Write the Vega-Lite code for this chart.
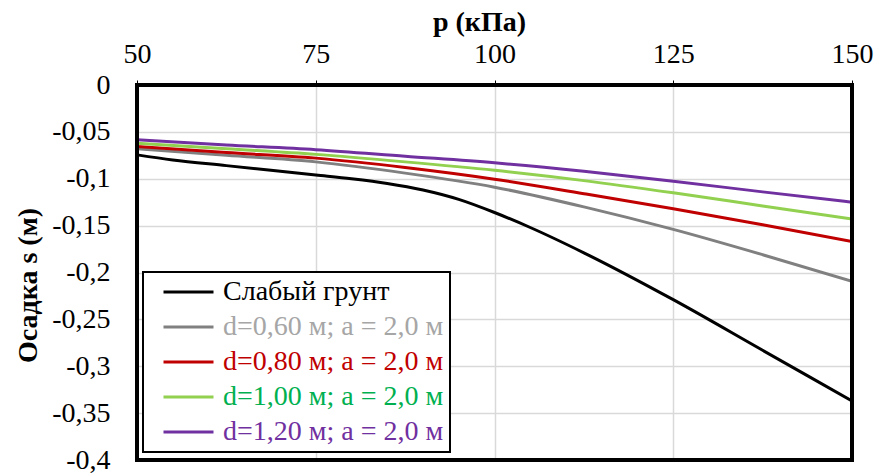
{
  "$schema": "https://vega.github.io/schema/vega-lite/v6.json",
  "width": 715,
  "height": 375,
  "autosize": {"type": "none"},
  "padding": {"left": 137, "top": 85, "right": 26, "bottom": 13},
  "background": "white",
  "config": {
    "view": {"stroke": null},
    "axis": {"labelFont": "Times New Roman", "titleFont": "Times New Roman"},
    "legend": {"labelFont": "Times New Roman", "titleFont": "Times New Roman"}
  },
  "data": {"values": [
    {"p": 50, "s": -0.0745, "series": "Слабый грунт"},
    {"p": 55, "s": -0.080, "series": "Слабый грунт"},
    {"p": 62.5, "s": -0.086, "series": "Слабый грунт"},
    {"p": 75, "s": -0.096, "series": "Слабый грунт"},
    {"p": 80, "s": -0.100, "series": "Слабый грунт"},
    {"p": 85, "s": -0.105, "series": "Слабый грунт"},
    {"p": 90, "s": -0.112, "series": "Слабый грунт"},
    {"p": 95, "s": -0.122, "series": "Слабый грунт"},
    {"p": 100, "s": -0.136, "series": "Слабый грунт"},
    {"p": 105, "s": -0.152, "series": "Слабый грунт"},
    {"p": 112.5, "s": -0.179, "series": "Слабый грунт"},
    {"p": 125, "s": -0.229, "series": "Слабый грунт"},
    {"p": 137.5, "s": -0.283, "series": "Слабый грунт"},
    {"p": 150, "s": -0.337, "series": "Слабый грунт"},
    {"p": 50, "s": -0.068, "series": "d=0,60 м; а = 2,0 м"},
    {"p": 62.5, "s": -0.075, "series": "d=0,60 м; а = 2,0 м"},
    {"p": 75, "s": -0.082, "series": "d=0,60 м; а = 2,0 м"},
    {"p": 87.5, "s": -0.094, "series": "d=0,60 м; а = 2,0 м"},
    {"p": 100, "s": -0.109, "series": "d=0,60 м; а = 2,0 м"},
    {"p": 112.5, "s": -0.130, "series": "d=0,60 м; а = 2,0 м"},
    {"p": 125, "s": -0.154, "series": "d=0,60 м; а = 2,0 м"},
    {"p": 137.5, "s": -0.181, "series": "d=0,60 м; а = 2,0 м"},
    {"p": 150, "s": -0.2095, "series": "d=0,60 м; а = 2,0 м"},
    {"p": 50, "s": -0.0655, "series": "d=0,80 м; а = 2,0 м"},
    {"p": 62.5, "s": -0.072, "series": "d=0,80 м; а = 2,0 м"},
    {"p": 75, "s": -0.078, "series": "d=0,80 м; а = 2,0 м"},
    {"p": 87.5, "s": -0.088, "series": "d=0,80 м; а = 2,0 м"},
    {"p": 100, "s": -0.1005, "series": "d=0,80 м; а = 2,0 м"},
    {"p": 112.5, "s": -0.116, "series": "d=0,80 м; а = 2,0 м"},
    {"p": 125, "s": -0.132, "series": "d=0,80 м; а = 2,0 м"},
    {"p": 137.5, "s": -0.149, "series": "d=0,80 м; а = 2,0 м"},
    {"p": 150, "s": -0.167, "series": "d=0,80 м; а = 2,0 м"},
    {"p": 50, "s": -0.062, "series": "d=1,00 м; а = 2,0 м"},
    {"p": 62.5, "s": -0.068, "series": "d=1,00 м; а = 2,0 м"},
    {"p": 75, "s": -0.074, "series": "d=1,00 м; а = 2,0 м"},
    {"p": 87.5, "s": -0.082, "series": "d=1,00 м; а = 2,0 м"},
    {"p": 100, "s": -0.091, "series": "d=1,00 м; а = 2,0 м"},
    {"p": 112.5, "s": -0.102, "series": "d=1,00 м; а = 2,0 м"},
    {"p": 125, "s": -0.115, "series": "d=1,00 м; а = 2,0 м"},
    {"p": 137.5, "s": -0.129, "series": "d=1,00 м; а = 2,0 м"},
    {"p": 150, "s": -0.143, "series": "d=1,00 м; а = 2,0 м"},
    {"p": 50, "s": -0.0585, "series": "d=1,20 м; а = 2,0 м"},
    {"p": 62.5, "s": -0.064, "series": "d=1,20 м; а = 2,0 м"},
    {"p": 75, "s": -0.069, "series": "d=1,20 м; а = 2,0 м"},
    {"p": 87.5, "s": -0.076, "series": "d=1,20 м; а = 2,0 м"},
    {"p": 100, "s": -0.083, "series": "d=1,20 м; а = 2,0 м"},
    {"p": 112.5, "s": -0.092, "series": "d=1,20 м; а = 2,0 м"},
    {"p": 125, "s": -0.1026, "series": "d=1,20 м; а = 2,0 м"},
    {"p": 137.5, "s": -0.114, "series": "d=1,20 м; а = 2,0 м"},
    {"p": 150, "s": -0.125, "series": "d=1,20 м; а = 2,0 м"}
  ]},
  "layer": [
    {
      "mark": {"type": "line", "strokeWidth": 3, "interpolate": "monotone", "clip": true},
      "encoding": {
        "x": {"field": "p", "type": "quantitative", "scale": {"domain": [50, 150], "nice": false},
          "axis": {"orient": "top", "values": [50, 75, 100, 125, 150], "title": "p (кПа)", "titleFont": "Times New Roman", "titleColor": "#000", "titleFontSize": 28, "titleFontWeight": "bold", "titleX": 342, "titleY": -55, "titleBaseline": "alphabetic", "titleAlign": "center", "labelFont": "Times New Roman", "labelColor": "#000", "labelFontSize": 28, "labelPadding": 12, "labelFlush": false, "labelOverlap": false, "tickSize": 5, "tickColor": "#000", "tickWidth": 1, "domain": false, "grid": true, "gridColor": "#d9d9d9", "gridWidth": 1.5}},
        "y": {"field": "s", "type": "quantitative", "scale": {"domain": [-0.4, 0], "nice": false},
          "axis": {"values": [0, -0.05, -0.1, -0.15, -0.2, -0.25, -0.3, -0.35, -0.4], "labelExpr": "replace(datum.value + '', '.', ',')", "title": "Осадка s (м)", "titleFont": "Times New Roman", "titleColor": "#000", "titleFontSize": 28, "titleFontWeight": "bold", "titleX": -109, "titleY": 200, "titleAngle": -90, "titleBaseline": "middle", "titleAlign": "center", "labelFont": "Times New Roman", "labelColor": "#000", "labelFontSize": 28, "labelPadding": 27, "labelFlush": false, "labelOverlap": false, "ticks": false, "domain": false, "grid": true, "gridColor": "#d9d9d9", "gridWidth": 1.5}},
        "color": {"field": "series", "type": "nominal",
          "scale": {"domain": ["Слабый грунт", "d=0,60 м; а = 2,0 м", "d=0,80 м; а = 2,0 м", "d=1,00 м; а = 2,0 м", "d=1,20 м; а = 2,0 м"], "range": ["#000000", "#808080", "#c00000", "#92d050", "#7030a0"]},
          "legend": {"orient": "none", "legendX": 6, "legendY": 187, "title": null, "symbolType": "stroke", "symbolSize": 2500, "symbolStrokeWidth": 3, "symbolOffset": 13, "clipHeight": 28, "labelFont": "Times New Roman", "labelFontSize": 28, "labelLimit": 400, "labelOffset": 8, "rowPadding": 7, "padding": 6, "strokeColor": "#000", "fillColor": "#fff",
            "encode": {"labels": {"update": {"fill": {"signal": "{'Слабый грунт': '#000000', 'd=0,60 м; а = 2,0 м': '#a6a6a6', 'd=0,80 м; а = 2,0 м': '#c00000', 'd=1,00 м; а = 2,0 м': '#00b050', 'd=1,20 м; а = 2,0 м': '#7030a0'}[datum.label]"}}}, "legend": {"update": {"strokeWidth": {"value": 2}}}}}}
      }
    },
    {
      "mark": {"type": "rect", "fill": null, "stroke": "#000", "strokeWidth": 3},
      "encoding": {
        "x": {"datum": 50, "type": "quantitative"},
        "x2": {"datum": 150},
        "y": {"datum": 0, "type": "quantitative"},
        "y2": {"datum": -0.4}
      }
    }
  ]
}
